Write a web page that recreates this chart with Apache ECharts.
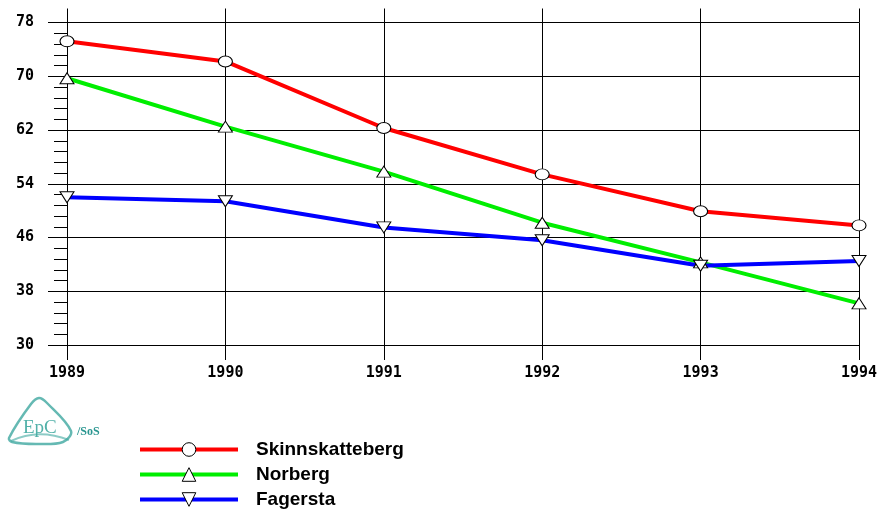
<!DOCTYPE html>
<html>
<head>
<meta charset="utf-8">
<script src="https://cdn.jsdelivr.net/npm/echarts@6/dist/echarts.min.js"></script>
<style>html,body{margin:0;padding:0;background:#fff}#c{width:877px;height:512px}</style>
</head>
<body>
<div id="c"></div>
<script>
const years = ['1989','1990','1991','1992','1993','1994'];
const skinnskatteberg = [75.2, 72.2, 62.3, 55.4, 49.9, 47.8];
const norberg = [69.7, 62.5, 55.8, 48.2, 42.3, 36.2];
const fagersta = [52.0, 51.4, 47.5, 45.6, 41.8, 42.5];
const yTicks = [30, 38, 46, 54, 62, 70, 78];

const chart = echarts.init(document.getElementById('c'), null, {renderer:'canvas'});
const monoFont = '"DejaVu Sans Mono", monospace';
const teal = '#3fa8a0';
function lineSeries(name, data, color, symbol, rotate){
  return {
    name, type:'line', data,
    symbol, symbolSize:[14,11], symbolRotate: rotate||0,
    showAllSymbol:true,
    lineStyle:{color, width:4},
    itemStyle:{color:'#fff', borderColor:'#000', borderWidth:1},
    emphasis:{disabled:true},
    animation:false
  };
}
chart.setOption({
  animation:false,
  backgroundColor:'#fff',
  grid:{left:67, right:18, top:22.5, bottom:167, containLabel:false, outerBoundsMode:'none'},
  legend:{
    orient:'vertical', left:138, top:440, height:90, padding:0,
    itemWidth:98, itemHeight:17, itemGap:6,
    lineStyle:{width:4},
    itemStyle:{borderWidth:1, borderColor:'#000', color:'#fff'},
    textStyle:{fontFamily:'"Liberation Sans", Arial, sans-serif', fontWeight:'bold', fontSize:19, color:'#000', padding:[0,0,0,13]},
    selectedMode:false
  },
  xAxis:[{
    type:'category', data:years, boundaryGap:false, position:'bottom',
    axisLine:{show:true, lineStyle:{color:'#000', width:1}},
    axisTick:{show:true, length:15, lineStyle:{color:'#000'}},
    axisLabel:{fontFamily:monoFont, fontWeight:'bold', fontSize:15, color:'#000', margin:21},
    splitLine:{show:true, lineStyle:{color:'#000', width:1}}
  },{
    type:'category', data:years, boundaryGap:false, position:'top',
    axisLine:{show:false},
    axisTick:{show:true, length:14, lineStyle:{color:'#000'}},
    axisLabel:{show:false},
    splitLine:{show:false}
  }],
  yAxis:{
    type:'value', min:yTicks[0], max:yTicks[yTicks.length-1], interval:8,
    axisLine:{show:true, lineStyle:{color:'#000', width:1}},
    axisTick:{show:true, length:19, lineStyle:{color:'#000'}},
    minorTick:{show:true, splitNumber:5, length:13, lineStyle:{color:'#000'}},
    axisLabel:{fontFamily:monoFont, fontWeight:'bold', fontSize:15, color:'#000', margin:33},
    splitLine:{show:true, lineStyle:{color:'#000', width:1}}
  },
  series:[
    lineSeries('Skinnskatteberg', skinnskatteberg, '#ff0000', 'circle'),
    lineSeries('Norberg', norberg, '#00ee00', 'triangle'),
    lineSeries('Fagersta', fagersta, '#0000ff', 'triangle', 180)
  ],
  graphic:[
    {type:'polygon', shape:{points:[[9,438],[31,404],[39,398],[47,403],[71,431],[63,442],[36,444],[12,442]], smooth:0.35},
     style:{fill:'none', stroke:teal, lineWidth:2.5, opacity:0.8}},
    {type:'bezierCurve', shape:{x1:11,y1:441,x2:69,y2:440,cpx1:38,cpy1:428}, style:{fill:'none', stroke:teal, lineWidth:2, opacity:0.6}},
    {type:'text', left:23, top:419, style:{text:'EpC', font:'19px "Liberation Serif", serif', fill:teal, opacity:0.9}},
    {type:'text', left:77, top:426, style:{text:'/SoS', font:'bold 12px "Liberation Serif", serif', fill:'#2a9690'}}
  ]
});
</script>
</body>
</html>
